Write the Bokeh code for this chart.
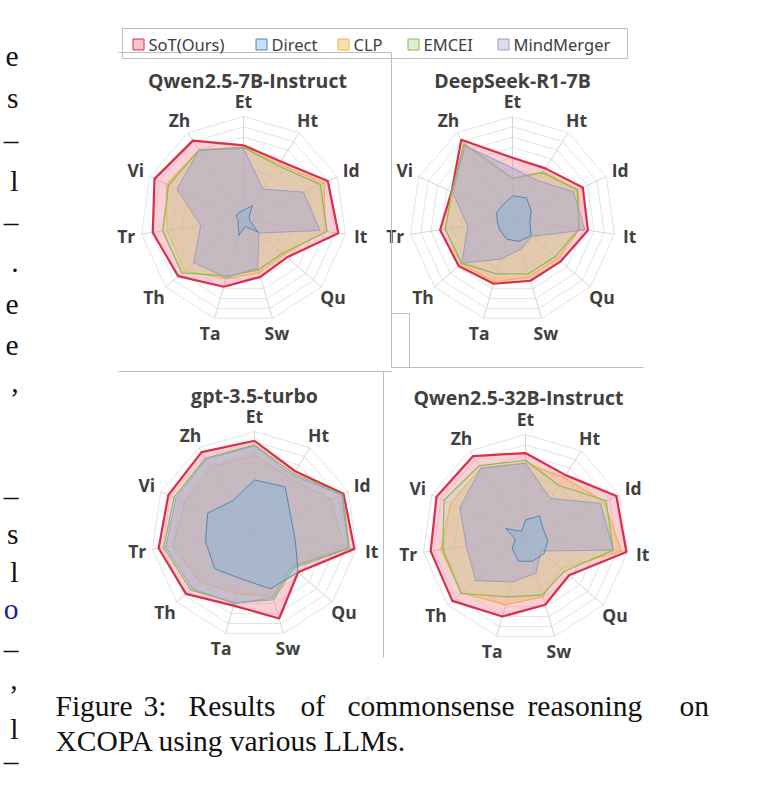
import numpy as np
from bokeh.plotting import figure
from bokeh.models import Range1d
from bokeh.core.properties import value
from bokeh.embed import file_html
from bokeh.resources import INLINE

# ---------------- data (readings on a 0-100 radial scale) ----------------
langs = ["Et", "Ht", "Id", "It", "Qu", "Sw", "Ta", "Th", "Tr", "Vi", "Zh"]
methods = ["SoT(Ours)", "Direct", "CLP", "EMCEI", "MindMerger"]
model_names = ["Qwen2.5-7B-Instruct", "DeepSeek-R1-7B", "gpt-3.5-turbo", "Qwen2.5-32B-Instruct"]

qwen7b_sot = [72, 67, 90, 93, 56, 58, 68, 84, 89, 95, 91]
qwen7b_direct = [9, 16, 6, 6, 19, 7, 16, 7, 5, 8, 8]
qwen7b_clp = [70, 64, 86, 80, 52, 54, 60, 76, 75, 82, 80]
qwen7b_emcei = [70, 62, 82, 82, 50, 51, 57, 79, 79, 80, 80]
qwen7b_mm = [69, 35, 64, 75, 20, 49, 59, 64, 42, 71, 80]

ds7b_sot = [60, 59, 75, 74, 62, 62, 65, 69, 71, 65, 92]
ds7b_direct = [23, 25, 20, 17, 24, 22, 20, 16, 15, 17, 17]
ds7b_clp = [40, 55, 70, 66, 58, 58, 63, 66, 66, 63, 88]
ds7b_emcei = [40, 54, 69, 65, 55, 55, 55, 65, 66, 65, 87]
ds7b_mm = [50, 45, 65, 71, 25, 30, 40, 65, 44, 64, 85]

gpt35_sot = [91, 73, 95, 98, 56, 85, 72, 88, 94, 92, 95]
gpt35_direct = [53, 55, 39, 40, 56, 55, 45, 51, 48, 50, 39]
gpt35_clp = [77, 65, 82, 88, 47, 63, 60, 70, 80, 75, 78]
gpt35_emcei = [87, 70, 94, 93, 50, 66, 69, 82, 89, 86, 88]
gpt35_mm = [86, 68, 93, 92, 48, 64, 70, 80, 87, 84, 87]

qwen32b_sot = [82, 72, 97, 99, 56, 68, 80, 94, 93, 95, 94]
qwen32b_direct = [17, 25, 19, 22, 24, 24, 24, 17, 10, 21, 7]
qwen32b_clp = [73, 69, 84, 94, 46, 60, 68, 82, 83, 80, 80]
qwen32b_emcei = [75, 60, 86, 86, 50, 58, 60, 83, 81, 87, 83]
qwen32b_mm = [72, 45, 80, 86, 20, 36, 45, 64, 58, 70, 80]

series = [
    [qwen7b_sot, qwen7b_direct, qwen7b_clp, qwen7b_emcei, qwen7b_mm],
    [ds7b_sot, ds7b_direct, ds7b_clp, ds7b_emcei, ds7b_mm],
    [gpt35_sot, gpt35_direct, gpt35_clp, gpt35_emcei, gpt35_mm],
    [qwen32b_sot, qwen32b_direct, qwen32b_clp, qwen32b_emcei, qwen32b_mm],
]

# caption and cropped neighbouring-column text
cap_words = ["Figure", "3:", "Results", "of", "commonsense", "reasoning", "on"]
cap_line2 = "XCOPA using various LLMs."
edge_chars = ["e", "s", "–", "l", "–", ".", "e", "e", ",", "–", "s", "l", "o", "–", "’", "l", "–"]

# ---------------- styles ----------------
line_cols = ["#d8304a", "#5585b5", "#f2b43a", "#86bb58", "#9d9cc2"]
fill_cols = ["#f07e92", "#6fb3dc", "#f0b57a", "#b8dcae", "#a9a8d2"]
fill_alphas = [0.38, 0.34, 0.42, 0.30, 0.50]
line_widths = [2.2, 1.0, 1.2, 1.2, 1.0]
leg_fill = ["#f7c3cb", "#c4e2f5", "#fbdfb3", "#dcf0d5", "#dcdcef"]
draw_order = [0, 2, 3, 4, 1]

centers = [(243, 219), (512, 219), (254, 534), (525, 537)]
title_pos = [(247, 80), (512, 80), (254, 395), (518, 397)]
R = 103
N = len(langs)
ang = np.arange(N) * 2 * np.pi / N

p = figure(width=747, height=779, x_range=Range1d(0, 747), y_range=Range1d(779, 0),
           output_backend="svg", toolbar_location=None, min_border=0,
           x_axis_type=None, y_axis_type=None)
p.grid.visible = False
p.outline_line_color = None
p.background_fill_color = "white"
p.border_fill_color = "white"

def pts(vals, cx, cy):
    r = np.asarray(vals, dtype=float) / 100.0 * R
    return list(cx + r * np.sin(ang)), list(cy - r * np.cos(ang))

for ci, (cx, cy) in enumerate(centers):
    # grid rings
    rxs, rys = [], []
    for k in range(1, 11):
        x, y = pts([k * 10] * N, cx, cy)
        rxs.append(x + [x[0]]); rys.append(y + [y[0]])
    p.multi_line(rxs, rys, line_color="#e4e4e4", line_width=1)
    # spokes
    ox, oy = pts([100] * N, cx, cy)
    p.multi_line([[cx, x] for x in ox], [[cy, y] for y in oy], line_color="#d4d4d4", line_width=1)
    # series
    for si in draw_order:
        x, y = pts(series[ci][si], cx, cy)
        p.patch(x, y, fill_color=fill_cols[si], fill_alpha=fill_alphas[si], line_color=None)
        p.line(x + [x[0]], y + [y[0]], line_color=line_cols[si], line_width=line_widths[si])
    # labels
    lx, ly = pts([115] * N, cx, cy)
    p.text(lx, ly, text=langs, text_align="center", text_baseline="middle",
           text_font=value("Open Sans"), text_font_style="bold", text_font_size="17.5px",
           text_color="#404040")
    tx, ty = title_pos[ci]
    p.text([tx], [ty], text=[model_names[ci]], text_align="center", text_baseline="middle",
           text_font=value("Open Sans"), text_font_style="bold", text_font_size="19.5px",
           text_color="#404040")

# panel borders
bx = [[122, 627, 627, 122, 122], [118, 391, 391], [118, 391], [391, 409, 409], [391, 643], [383, 383]]
by = [[28, 28, 58, 58, 28], [52, 52, 367], [371, 371], [313, 313, 367], [367, 367], [371, 657]]
p.multi_line(bx, by, line_color="#bdbdbd", line_width=1)

# legend
leg_x = [138, 261, 343, 413, 503]
p.rect(leg_x, [44] * 5, width=11, height=11, width_units="screen", height_units="screen",
       fill_color=leg_fill, line_color=line_cols, line_width=1)
p.text([x + 10 for x in leg_x], [44] * 5, text=methods, text_align="left", text_baseline="middle",
       text_font=value("Noto Sans"), text_font_size="16.5px", text_color="#404040")

# caption
cap_x = [55, 143, 188, 300, 347, 527, 679]
p.text(cap_x, [705] * len(cap_words), text=cap_words, text_align="left", text_baseline="alphabetic",
       text_font=value("Liberation Serif"), text_font_size="29.5px", text_color="#111111")
p.text([55], [740], text=[cap_line2], text_align="left", text_baseline="alphabetic",
       text_font=value("Liberation Serif"), text_font_size="29.5px", text_color="#111111")

# characters of the neighbouring text column at the left edge
edge_y = [56, 97, 139, 180, 221, 262, 304, 345, 382, 495, 533, 571, 608, 648, 694, 728, 760]
edge_col = ["#111111"] * len(edge_chars)
edge_col[12] = "#1c1c9c"
p.text([18] * len(edge_chars), edge_y, text=edge_chars, text_align="right", text_baseline="alphabetic",
       text_font=value("Liberation Serif"), text_font_size="29.5px", text_color=edge_col)

open("out.html", "w").write(file_html(p, INLINE))
